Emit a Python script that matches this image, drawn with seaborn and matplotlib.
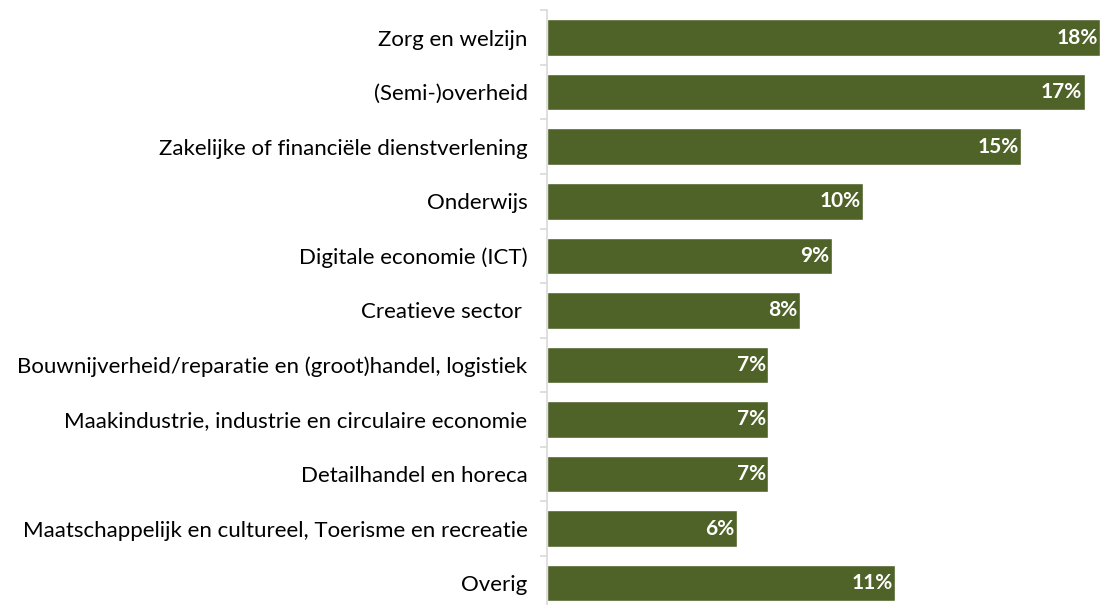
import matplotlib
matplotlib.use("Agg")
import matplotlib.pyplot as plt
import seaborn as sns
import pandas as pd
import numpy as np

# data
sectors = [
    "Zorg en welzijn",
    "(Semi-)overheid",
    "Zakelijke of financiële dienstverlening",
    "Onderwijs",
    "Digitale economie (ICT)",
    "Creatieve sector ",
    "Bouwnijverheid/reparatie en (groot)handel, logistiek",
    "Maakindustrie, industrie en circulaire economie",
    "Detailhandel en horeca",
    "Maatschappelijk en cultureel, Toerisme en recreatie",
    "Overig",
]
shares = [17.5, 17, 15, 10, 9, 8, 7, 7, 7, 6, 11]
share_labels = ["18%", "17%", "15%", "10%", "9%", "8%", "7%", "7%", "7%", "6%", "11%"]

df = pd.DataFrame({"sector": sectors, "share": shares})

sns.set_style("white")
plt.rcParams["font.family"] = ["Lato", "DejaVu Sans"]

fig = plt.figure(figsize=(11.01, 6.05), dpi=100)
ax = fig.add_axes([0.4968, 0.0, 0.9995 - 0.4968, 0.983])

sns.barplot(data=df, x="share", y="sector", orient="h", color="#4F6228",
            saturation=1, width=0.67, ax=ax)

for i, (v, lab) in enumerate(zip(shares, share_labels)):
    ax.text(v - 0.08, i, lab, ha="right", va="center", color="white",
            fontsize=15, fontweight="bold")

ax.set_xlim(0, 17.5)
ax.set_ylim(10.4, -0.5)
ax.set_xlabel("")
ax.set_ylabel("")
ax.set_xticks([])

for side in ["top", "right", "bottom"]:
    ax.spines[side].set_visible(False)
ax.spines["left"].set_color("#D9D9D9")
ax.spines["left"].set_linewidth(1.2)

ax.set_yticks(np.arange(-0.5, 10.5, 1.0), minor=True)
ax.tick_params(axis="y", which="minor", length=5, color="#D9D9D9", width=1.2, left=True)
ax.tick_params(axis="y", which="major", length=0, pad=14, labelsize=16, labelcolor="#000000")

fig.savefig("out.png", dpi=100)
